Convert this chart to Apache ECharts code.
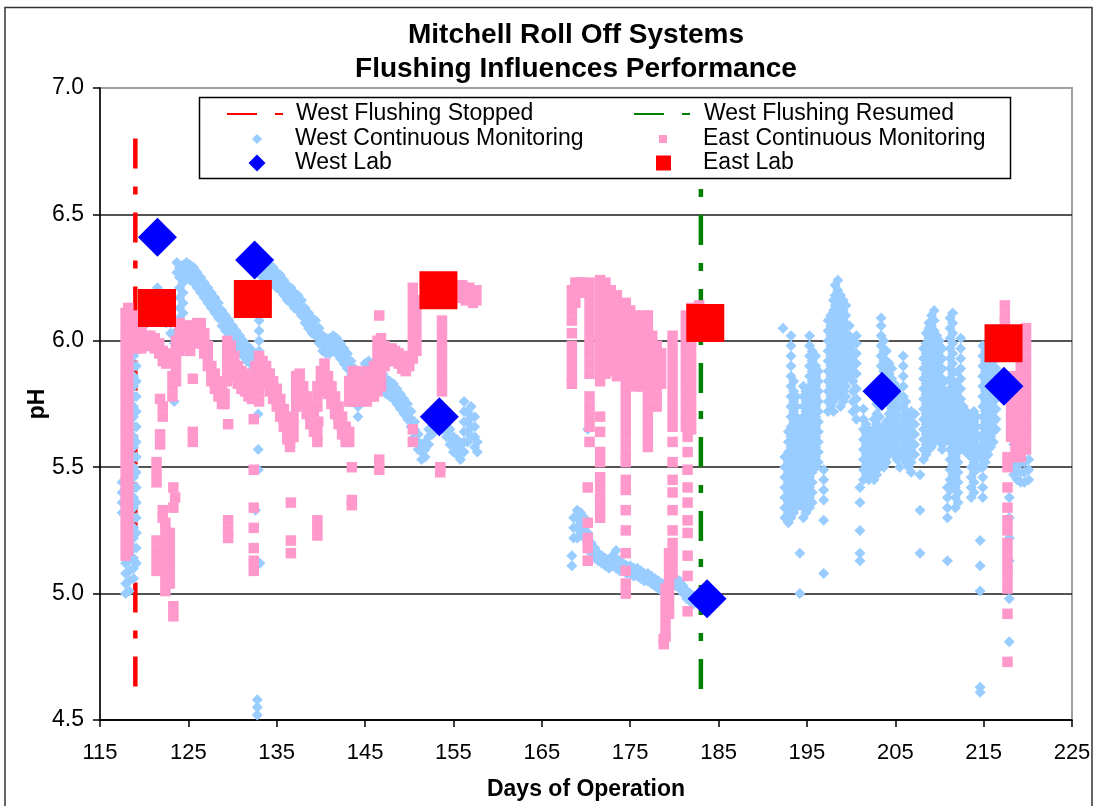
<!DOCTYPE html>
<html><head><meta charset="utf-8">
<script src="https://cdn.jsdelivr.net/npm/echarts@6/dist/echarts.min.js"></script>
<style>html,body{margin:0;padding:0;background:#fff}#c{width:1095px;height:806px}</style>
</head><body><div id="c"></div>
<script>
// ---------- DATA ----------
const xTicks = [115,125,135,145,155,165,175,185,195,205,215,225];
const yTicks = [4.5,5.0,5.5,6.0,6.5,7.0];

const stopDay = 119.0, stopRange = [6.8, 4.6];
const resumeDay = 183.0, resumeRange = [6.6, 4.6];

const westLabDays = [121.5, 132.5, 153.4, 183.7, 203.5, 217.3];
const westLabPH   = [6.41, 6.32, 5.70, 4.98, 5.80, 5.82];
const eastLabDays = [121.45, 132.3, 153.3, 183.5, 217.25];
const eastLabPH   = [6.13, 6.165, 6.20, 6.07, 5.99];

// rows: [day, pH, pH, ...]
const westCMRows = [
 [117.5,5.32,5.36,5.4,5.44],
 [117.9,5.0,5.04,5.08,5.12],
 [118.3,5.01,5.05,5.09,5.13,5.17],
 [118.8,5.06,5.1,5.14,5.18,5.22,5.26,5.3,5.34,5.38,5.42,5.46,5.5,5.54,5.58,5.62,5.66,5.7,5.74,5.78,5.82,5.86,5.9,5.94,5.98],
 [119.1,5.12,5.18,5.24,5.3,5.36,5.42,5.48,5.54,5.6,5.66,5.72,5.78,5.84,5.9,5.96,6.0],
 [119.5,6.0,6.04,6.08],[120.0,6.06,6.1],[120.5,6.08,6.12],[121.0,6.1,6.14],[121.5,6.14,6.21],
 [122.0,6.1,6.14],[122.5,6.07,6.11],[123.0,6.03,6.07],[123.4,5.76,5.99,6.03],[123.7,6.27,6.31],
 [124.0,6.01,6.05,6.09,6.13,6.17,6.21,6.25,6.29],
 [124.4,6.03,6.07,6.11,6.15,6.19,6.23,6.27,6.3],
 [124.8,6.25,6.28,6.31],[125.2,6.24,6.27,6.3],[125.6,6.23,6.26,6.29],[126.0,6.21,6.24,6.27],
 [126.4,6.19,6.22,6.25],[126.8,6.17,6.2,6.23],[127.2,6.15,6.18,6.21],[127.6,6.13,6.16,6.19],
 [128.0,6.11,6.14,6.17],[128.4,6.09,6.12,6.15],[128.8,6.06,6.09,6.12],[129.2,6.04,6.07,6.1],
 [129.6,6.02,6.05,6.08],[130.0,6.0,6.03,6.06],[130.4,5.98,6.01,6.04],[130.8,5.96,5.99,6.02],
 [131.2,5.94,5.97,6.0],[131.6,5.92,5.95,5.98],[132.0,5.91,5.94,5.97],[132.4,5.89,5.92,5.95],
 [132.6,5.33],[132.8,4.52,4.55,4.58],[132.9,5.49,5.57,5.71],
 [133.0,5.96,6.0,6.04,6.08,6.12],[133.1,5.12],
 [133.4,6.25,6.28,6.31],[133.8,6.25,6.28,6.31],[134.2,6.24,6.27,6.3],[134.6,6.23,6.26,6.29],
 [135.0,6.21,6.24,6.27],[135.4,6.2,6.23,6.26],[135.8,6.18,6.21,6.24],[136.2,6.16,6.19,6.22],
 [136.6,6.15,6.18,6.21],[137.0,6.13,6.16,6.19],[137.4,6.12,6.15,6.18],[137.8,6.1,6.13,6.16],
 [138.2,6.07,6.1,6.13],[138.6,6.05,6.08,6.11],[139.0,6.03,6.06,6.09],[139.4,6.02,6.05,6.08],
 [139.8,5.99,6.02,6.05],[140.2,5.96,5.99,6.02],[140.6,5.95,5.98,6.01],[141.0,5.95,5.98,6.01],
 [141.4,5.96,5.99,6.02],[141.8,5.95,5.98,6.01],[142.2,5.93,5.96,5.99],[142.6,5.91,5.94,5.97],
 [143.0,5.89,5.92,5.95],[143.4,5.86,5.89,5.92],[143.8,5.83,5.86,5.89],
 [144.2,5.7,5.74,5.78,5.81,5.84,5.87],[144.6,5.81,5.84,5.87],
 [145.0,5.85,5.88,5.91],[145.4,5.86,5.89,5.92],[145.8,5.85,5.88,5.91],[146.2,5.83,5.86,5.89],
 [146.6,5.82,5.85,5.88],[147.0,5.81,5.84,5.87],[147.4,5.79,5.82,5.85],[147.8,5.78,5.81,5.84],
 [148.2,5.77,5.8,5.83],[148.6,5.75,5.78,5.81],[149.0,5.73,5.76,5.79],[149.4,5.71,5.74,5.77],
 [149.8,5.69,5.72,5.75],[150.2,5.66,5.69,5.72],[150.6,5.62,5.65,5.68],[151.0,5.57,5.6,5.63],
 [151.4,5.53,5.56,5.59],[151.8,5.54,5.57,5.6],[152.2,5.59,5.62,5.65],[152.6,5.63,5.66,5.69],
 [153.0,5.65,5.68,5.71],[153.4,5.66,5.69,5.72],[153.8,5.65,5.68,5.71],[154.2,5.62,5.65,5.68],
 [154.6,5.59,5.62,5.65],[155.0,5.56,5.59,5.62],[155.4,5.55,5.58,5.61],[155.8,5.53,5.56,5.59],
 [156.2,5.56,5.6,5.64,5.68,5.72,5.76],[156.6,5.6,5.64,5.68,5.72],
 [157.0,5.62,5.66,5.7,5.74],[157.4,5.58,5.62,5.66,5.7],[157.7,5.56,5.6],
 // second period
 [168.4,5.11,5.15],
 [168.6,5.22,5.26,5.3],[169.0,5.22,5.26,5.3,5.33],[169.4,5.24,5.28,5.32],[169.8,5.22,5.26,5.3],
 [170.2,5.2,5.24,5.42,5.65],[170.6,5.16,5.2],[171.0,5.14,5.18],[171.4,5.13,5.16],[171.8,5.12,5.15],
 [172.2,5.11,5.14],[172.6,5.1,5.13],[173.0,5.11,5.15],[173.4,5.1,5.14,5.17],[173.8,5.09,5.13],
 [174.2,5.09,5.12],[174.6,5.08,5.11],[175.0,5.08,5.11],[175.4,5.07,5.1],[175.8,5.07,5.1],
 [176.2,5.06,5.09],[176.6,5.05,5.08],[177.0,5.05,5.08],[177.4,5.04,5.07],[177.8,5.03,5.06],
 [178.2,5.02,5.05],[178.6,5.01,5.04],[179.0,5.01,5.04],[179.4,5.02,5.05],[179.8,5.03,5.06],
 [180.2,5.03,5.06],[180.6,5.02,5.05],[181.0,5.0,5.03],[181.4,4.98,5.01],[181.8,4.97,5.0],[182.2,4.96,4.99],
 // third period
 [192.3,6.05],
 [192.5,5.3,5.34,5.38,5.42,5.46,5.5,5.54],
 [192.9,5.28,5.32,5.36,5.4,5.44,5.48,5.52,5.56,5.6,5.64],
 [193.2,5.3,5.34,5.38,5.42,5.46,5.5,5.54,5.58,5.62,5.66,5.7,5.74,5.78,5.82,5.86,5.9,5.94,5.98,6.02],
 [193.5,5.32,5.36,5.4,5.44,5.48,5.52,5.56,5.6,5.64,5.68,5.72,5.76,5.8,5.84],
 [193.8,5.34,5.38,5.42,5.46,5.5,5.54,5.58,5.62,5.66,5.7,5.74,5.78],
 [194.2,5.0,5.16,5.36,5.4,5.44,5.48,5.52,5.56,5.6,5.64,5.68],
 [194.6,5.3,5.34,5.38,5.42,5.46,5.5,5.54,5.58,5.62,5.66,5.7,5.74,5.78,5.82],
 [194.9,5.32,5.36,5.4,5.44,5.48,5.52,5.56,5.6,5.64,5.68,5.72,5.76,5.8],
 [195.3,5.34,5.38,5.42,5.46,5.5,5.54,5.58,5.62,5.66,5.7,5.74,5.78,5.82,5.86,5.9,5.94,5.98,6.02],
 [195.6,5.36,5.4,5.44,5.48,5.52,5.56,5.6,5.64,5.68,5.72,5.76,5.8,5.84,5.88,5.92,5.96],
 [196.0,5.5,5.54,5.58,5.62,5.66,5.7,5.74,5.78,5.82,5.86,5.9,5.94],
 [196.3,5.52,5.56,5.6,5.64,5.68,5.72,5.76,5.8,5.84,5.88],
 [196.9,5.08,5.29,5.37,5.41,5.45,5.49],
 [197.4,5.72,5.76,5.8,5.84,5.88,5.92,5.96,6.0,6.04,6.08],
 [197.7,5.74,5.78,5.82,5.86,5.9,5.94,5.98,6.02,6.06,6.1],
 [198.0,5.72,5.76,5.8,5.84,5.88,5.92,5.96,6.0,6.04,6.08,6.12,6.16],
 [198.2,5.78,5.82,5.86,5.9,5.94,5.98,6.02,6.06,6.1,6.14,6.18,6.22],
 [198.5,5.8,5.84,5.88,5.92,5.96,6.0,6.04,6.08,6.12,6.16,6.2,6.24],
 [198.8,5.74,5.78,5.82,5.86,5.9,5.94,5.98,6.02,6.06,6.1,6.14,6.18],
 [199.1,5.76,5.8,5.84,5.88,5.92,5.96,6.0,6.04,6.08,6.12,6.16],
 [199.4,5.78,5.82,5.86,5.9,5.94,5.98,6.02,6.06,6.1,6.14],
 [199.8,5.86,5.9,5.94,5.98,6.02,6.06],
 [200.2,5.72,5.76,5.8,5.84,5.88,5.92,5.96,6.0],
 [200.6,5.69,5.73,5.77,5.81,5.87,5.91,5.95,5.99,6.02],
 [201.0,5.13,5.16,5.25,5.36,5.42],
 [201.4,5.45,5.49,5.53,5.57,5.61,5.65,5.69,5.73],
 [201.7,5.47,5.51,5.55,5.59,5.63,5.67],
 [202.0,5.45,5.49,5.53,5.57,5.61,5.65],
 [202.3,5.47,5.51,5.55,5.59,5.63],
 [202.6,5.45,5.49,5.53,5.57,5.61,5.65,5.69],
 [202.9,5.47,5.51,5.55,5.59,5.63,5.67,5.71,5.75],
 [203.2,5.5,5.54,5.58,5.62,5.66,5.7,5.74],
 [203.4,5.52,5.56,5.6,5.64,5.9,5.94,5.98,6.02,6.06,6.09],
 [203.7,5.5,5.54,5.58,5.62,5.66,5.88,5.92,5.96,6.0],
 [204.0,5.52,5.56,5.6,5.64,5.68,5.84,5.88,5.92,5.96],
 [204.3,5.55,5.59,5.63,5.67,5.71,5.75,5.79,5.83,5.87,5.91],
 [204.6,5.57,5.61,5.65,5.69,5.73,5.77,5.81,5.85,5.89],
 [204.9,5.55,5.59,5.63,5.67,5.71,5.75,5.79,5.83],
 [205.2,5.53,5.57,5.61,5.65,5.69,5.73,5.77,5.81],
 [205.5,5.5,5.54,5.58,5.62,5.66,5.7,5.74,5.78],
 [205.9,5.54,5.58,5.62,5.66,5.7,5.74,5.78,5.82,5.86,5.9,5.94],
 [206.2,5.52,5.56,5.6,5.64,5.68,5.72,5.76],
 [206.5,5.5,5.54,5.58,5.62,5.66,5.7],
 [206.8,5.48,5.52,5.56,5.6,5.64,5.68,5.72],
 [207.2,5.55,5.59,5.63,5.67,5.71],
 [207.8,5.16,5.33,5.47],
 [208.2,5.53,5.57,5.61,5.65,5.69,5.73,5.77,5.81,5.85,5.89,5.93,5.97],
 [208.5,5.55,5.59,5.63,5.67,5.71,5.75,5.79,5.83,5.87,5.91,5.95,5.99,6.03],
 [208.8,5.57,5.61,5.65,5.69,5.73,5.77,5.81,5.85,5.89,5.93,5.97,6.01,6.05,6.07],
 [209.1,5.58,5.62,5.66,5.7,5.74,5.78,5.82,5.86,5.9,5.94,5.98,6.02,6.06,6.1],
 [209.4,5.6,5.64,5.68,5.72,5.76,5.8,5.84,5.88,5.92,5.96,6.0,6.04,6.08,6.12],
 [209.7,5.62,5.66,5.7,5.74,5.78,5.82,5.86,5.9,5.94,5.98,6.02],
 [210.0,5.6,5.64,5.68,5.72,5.76,5.8,5.84,5.88,5.92,5.96,6.0],
 [210.3,5.57,5.61,5.65,5.69,5.73,5.77,5.81,5.85,5.89,5.93,5.97],
 [210.6,5.6,5.64,5.68,5.72,5.76,5.8,5.84],
 [210.9,5.13,5.3,5.34,5.38,5.42,5.62,5.66,5.7,5.74,5.78],
 [211.2,5.41,5.45,5.49,5.53,5.57,5.61,5.65,5.69,5.73,5.77,5.81,5.85,5.89,5.93,5.97,6.01,6.05,6.09],
 [211.5,5.43,5.47,5.51,5.55,5.59,5.63,5.67,5.71,5.75,5.79,5.83,5.87,5.91,5.95,5.99,6.03,6.07,6.11],
 [211.8,5.34,5.38,5.42,5.46,5.5,5.54,5.58,5.62,5.66,5.7,5.74,5.78,5.82],
 [212.1,5.36,5.4,5.44,5.48,5.52,5.56,5.6,5.64,5.68,5.72,5.76,5.8,5.84,5.88],
 [212.4,5.61,5.65,5.69,5.73,5.77,5.81,5.85,5.89,5.93,5.97,6.01],
 [212.7,5.58,5.62,5.66,5.7,5.74],
 [213.0,5.56,5.6,5.64,5.68,5.72],
 [213.3,5.55,5.59,5.63,5.67,5.71],
 [213.6,5.38,5.42,5.46,5.5,5.54,5.58,5.62,5.66,5.7],
 [213.9,5.4,5.44,5.48,5.52,5.56,5.6,5.64,5.68,5.72],
 [214.2,5.5,5.54,5.58,5.62,5.66,5.7],
 [214.6,4.61,4.63,5.01,5.11,5.21,5.5,5.54,5.58,5.62],
 [214.9,5.38,5.42,5.46,5.5,5.54,5.58,5.62,5.66,5.7,5.74,5.78,5.82,5.86,5.9,5.94,5.98],
 [215.2,5.52,5.56,5.6,5.64,5.68,5.72,5.76,5.8,5.84,5.88,5.92,5.96],
 [215.5,5.55,5.59,5.63,5.67,5.71,5.75,5.79,5.83,5.87,5.91,5.95],
 [215.8,5.58,5.62,5.66,5.7,5.74,5.78,5.82,5.86,5.9,5.94],
 [216.1,5.6,5.64,5.68,5.72,5.76,5.8,5.84,5.88,5.92],
 [216.4,5.65,5.69,5.73,5.77,5.81,5.85,5.89],
 [217.9,4.81,4.98,5.13,5.22,5.3,5.38],
 [218.4,5.47,5.51,5.55,5.59,5.63,5.67,5.71,5.75],
 [218.8,5.45,5.49,5.53,5.57],
 [219.2,5.44,5.48,5.52,5.56],
 [219.6,5.44,5.48,5.52],
 [220.1,5.45,5.49,5.53]
];

const eastCMRows = [
 [117.9,5.15,5.19,5.23,5.27,5.31,5.35,5.39,5.43,5.47,5.51,5.55,5.59,5.63,5.67,5.71,5.75,5.79,5.83,5.87,5.91,5.95,5.99,6.03,6.07,6.11],
 [118.2,5.17,5.21,5.25,5.29,5.33,5.37,5.41,5.45,5.49,5.53,5.57,5.61,5.65,5.69,5.73,5.77,5.81,5.85,5.89,5.93,5.97,6.01,6.05,6.09,6.13],
 [118.7,5.98,6.02,6.06,6.1],[119.2,5.97,6.01,6.05],[119.7,5.97,6.01,6.05],[120.2,5.98,6.02],
 [120.7,5.98,6.02],[121.2,5.97,6.01],[121.7,5.95,5.99],[122.1,5.92,5.96],[122.5,5.91,5.95],
 [121.4,5.09,5.13,5.17,5.21,5.44,5.48,5.52],
 [121.8,5.59,5.63,5.77],
 [122.1,5.3,5.33,5.7,5.74],
 [122.4,5.01,5.05,5.09,5.13,5.17,5.21,5.25,5.28],
 [122.9,5.04,5.08,5.12,5.16,5.2,5.24],
 [123.3,4.91,4.95,5.34,5.42],[123.5,5.38],
 [123.2,5.78,5.82,5.86],[123.6,5.84,5.88,5.92,5.96,6.0],[124.0,5.96,6.0,6.04,6.07],
 [124.4,5.99,6.02,6.06],[124.8,5.98,6.02,6.06],[125.2,5.96,6.0,6.04],[125.6,5.99,6.02,6.06],
 [126.0,5.99,6.03,6.07],[126.4,6.0,6.04,6.07],[126.8,5.95,5.99,6.03],[127.2,5.9,5.94,5.98],
 [125.5,5.6,5.64,5.85],
 [127.6,5.84,5.87,5.9],[128.0,5.81,5.84,5.87],[128.4,5.78,5.81,5.84],[128.8,5.75,5.78,5.81],[129.1,5.75,5.79],
 [129.4,5.84,5.88,5.92,5.96,6.0],[129.8,5.86,5.9,5.94,5.98],[130.2,5.86,5.9,5.94],
 [130.6,5.83,5.86,5.9],[131.0,5.81,5.84,5.88],[131.4,5.8,5.83,5.87],[131.8,5.78,5.81,5.85],[132.2,5.77,5.8,5.84],
 [132.6,5.82,5.86,5.9],[133.0,5.76,5.8,5.86,5.9,5.94],[133.4,5.84,5.88,5.92],[133.8,5.83,5.86,5.9],
 [134.2,5.8,5.83,5.87],[134.6,5.77,5.8,5.84],[135.0,5.74,5.77,5.81],[135.4,5.7,5.73,5.77],[135.8,5.66,5.69,5.73],
 [136.2,5.61,5.64,5.68],[136.5,5.58,5.6,5.64],
 [129.5,5.22,5.25,5.29,5.67],
 [132.4,5.09,5.13,5.18,5.26,5.34,5.49,5.69],
 [136.6,5.16,5.21,5.36],
 [136.9,5.62,5.66,5.7],[137.2,5.74,5.78,5.82,5.86],[137.6,5.8,5.84,5.87],[138.0,5.75,5.78,5.82],
 [138.4,5.71,5.74,5.78],[138.8,5.67,5.7,5.74],[139.2,5.64,5.68,5.72],[139.6,5.62,5.66,5.74,5.78,5.82],
 [140.0,5.8,5.84,5.88],[140.4,5.84,5.88,5.91],[140.8,5.79,5.82,5.86],[141.2,5.75,5.78,5.82],
 [141.6,5.71,5.74,5.78],[142.0,5.67,5.7,5.74],[142.4,5.63,5.66,5.7],[142.8,5.6,5.63,5.66],
 [143.2,5.6,5.64,5.76,5.8,5.84],[143.6,5.76,5.8,5.84,5.88],[144.0,5.76,5.8,5.84,5.88],
 [144.4,5.76,5.8,5.84],[144.8,5.77,5.81,5.85],[145.2,5.76,5.8,5.84,5.88],[145.6,5.78,5.82,5.86],
 [146.0,5.78,5.82,5.86,5.9],[146.4,5.8,5.84,5.92,5.96,6.0],[146.8,5.82,5.86,5.9,5.94,5.98,6.01],
 [147.2,5.9,5.94,5.98],[147.6,5.92,5.96],[148.0,5.93,5.97],[148.4,5.92,5.96],[148.8,5.91,5.95],
 [149.2,5.89,5.93],[149.6,5.88,5.92],[150.0,5.9,5.94],
 [150.4,5.93,5.97,6.01,6.05,6.09,6.13,6.17,6.21],[150.8,5.96,6.0,6.04,6.08,6.12,6.16],
 [139.6,5.23,5.26,5.29,5.6],[139.7,5.68],
 [143.5,5.35,5.37,5.5],
 [146.6,5.49,5.53,6.1],
 [150.4,5.6,5.65],
 [153.5,5.48,5.5],
 [153.7,5.8,5.84,5.88,5.92,5.96,6.0,6.04,6.08],
 [155.6,6.17,6.21],[156.0,6.18,6.22],[156.4,6.16,6.2],[156.8,6.17,6.21],[157.2,6.15,6.19],[157.6,6.16,6.2],
 // second period
 [168.4,5.83,5.86,5.9,5.94,5.98,6.03,6.08,6.12,6.16,6.2],
 [168.8,6.15,6.19,6.23],[169.2,6.19,6.23],[169.6,6.19,6.23],
 [170.2,5.13,5.18,5.22,5.28,5.42],
 [170.4,5.6,5.66,5.7,5.74,5.78,5.87,5.91,5.95,5.99,6.03,6.07,6.11,6.15,6.19,6.23],
 [171.6,5.3,5.34,5.38,5.42,5.46,5.52,5.56,5.64,5.7,5.84,5.88,5.92,5.96,6.0,6.04,6.08,6.12,6.16,6.2,6.24],
 [172.2,5.87,5.91,5.95,5.99,6.03,6.07,6.11,6.15,6.19,6.23],
 [172.8,5.88,5.92,5.96,6.0,6.04,6.08,6.12,6.16,6.2],
 [173.5,5.86,5.9,5.94,5.98,6.02,6.06,6.1,6.14,6.18],
 [174.5,5.0,5.04,5.09,5.16,5.25,5.33,5.41,5.45,5.52,5.55,5.59,5.63,5.67,5.71,5.75,5.79,5.83,5.87,5.91,5.95,5.99,6.03,6.07,6.11,6.15],
 [175.0,5.84,5.88,5.92,5.96,6.0,6.04,6.08,6.12],
 [175.5,5.82,5.86,5.9,5.94,5.98,6.02,6.06,6.1],
 [176.0,5.82,5.86,5.9,5.94,5.98,6.02,6.06],
 [176.5,5.82,5.86,5.9,5.94,5.98,6.02,6.06,6.1],
 [177.0,5.58,5.62,5.66,5.7,5.74,5.78,5.82,5.86,5.9,5.94,5.98,6.02,6.06,6.1],
 [177.5,5.82,5.86,5.9,5.94,5.98,6.02],
 [178.0,5.74,5.78,5.82,5.86,5.9,5.94,5.98],
 [178.5,5.83,5.87,5.91,5.95],
 [178.8,4.8,4.82],
 [179.0,4.83,4.86,4.9,4.94,4.98,5.02],
 [179.4,4.92,4.96,5.0,5.04,5.08,5.12,5.16],
 [179.8,5.08,5.12,5.16,5.2,5.25,5.33,5.4,5.45,5.52,5.6,5.66,5.7,5.74,5.78,5.82,5.86,5.9,5.94,5.98,6.02],
 [181.3,5.66,5.7,5.74,5.78,5.82,5.86,5.9,5.94,5.98,6.02,6.06,6.1],
 [181.5,4.93,5.07,5.15,5.24,5.29,5.36,5.42,5.49,5.56,5.62],
 [181.9,5.65,5.69,5.73,5.77,5.81,5.85,5.89,5.93,5.97,6.01,6.05,6.09,6.13],
 [182.8,6.14],
 // third period
 [217.4,6.07,6.1,6.14],
 [217.7,4.73,4.92,5.02,5.06,5.09,5.12,5.16,5.2,5.25,5.29,5.34,5.42,5.5,5.54],
 [218.1,5.62,5.66,5.7,5.74,5.78,5.82,5.86],
 [218.6,5.54,5.58,5.62,5.66,5.7,5.74,5.78],
 [219.2,5.54,5.58,5.62,5.66,5.7,5.74,5.78,5.82,5.86,5.9],
 [219.8,5.57,5.61,5.65,5.69,5.73,5.77,5.81,5.85,5.89,5.93,5.97,6.01,6.05]
];

// ---------- build ----------
const expand = rows => rows.flatMap(r => r.slice(1).map(v => [r[0], v]));
const westCM = expand(westCMRows);
const eastCM = expand(eastCMRows);
const westLab = westLabDays.map((d, i) => [d, westLabPH[i]]);
const eastLab = eastLabDays.map((d, i) => [d, eastLabPH[i]]);
const stopLine = stopRange.map(v => [stopDay, v]);
const resumeLine = resumeRange.map(v => [resumeDay, v]);

const FONT = 'Liberation Sans, Arial, sans-serif';
const dash = [30, 18, 8, 18];
const chart = echarts.init(document.getElementById('c'), null, {renderer: 'canvas'});

function leg(name, left, top, w, h, pad, extra) {
  return Object.assign({
    data: [name], left: left, top: top, padding: 0, itemWidth: w, itemHeight: h,
    selectedMode: false, orient: 'horizontal',
    textStyle: {fontSize: 23, fontFamily: FONT, color: '#000', lineHeight: 26, padding: [0, 0, 0, pad]}
  }, extra || {});
}
const lineLegendExtra = {itemStyle: {color: 'rgba(0,0,0,0)', borderWidth: 0}};

chart.setOption({
  animation: false,
  backgroundColor: '#fff',
  title: {
    text: 'Mitchell Roll Off Systems\nFlushing Influences Performance',
    left: 576, top: 18, padding: 0, textAlign: 'center', textVerticalAlign: 'top',
    textStyle: {fontSize: 28, fontWeight: 'bold', fontFamily: FONT, color: '#000', lineHeight: 34}
  },
  graphic: [
    {type: 'rect', z: -10, silent: true, shape: {x: 5, y: 7.5, width: 1087, height: 830},
     style: {fill: 'none', stroke: '#333', lineWidth: 1.5}},
    {type: 'rect', z: 0, silent: true, shape: {x: 199.5, y: 97.5, width: 811, height: 81},
     style: {fill: '#fff', stroke: '#000', lineWidth: 1.5}}
  ],
  legend: [
    leg('West Flushing Stopped', 226, 101, 57, 6, 7, lineLegendExtra),
    leg('West Flushing Resumed', 633, 101, 57, 6, 8, Object.assign({lineStyle: {dashOffset: 0}}, lineLegendExtra)),
    leg('West Continuous Monitoring', 252, 126, 10, 10, 28),
    leg('East Continuous Monitoring', 659, 126, 8, 8, 31),
    leg('West Lab', 248.5, 150, 17, 17, 24.5),
    leg('East Lab', 656, 150, 15, 15, 27)
  ],
  grid: {left: 100, top: 88, right: 23, bottom: 86, show: true, borderColor: '#A0A0A0', borderWidth: 2,
         containLabel: false, outerBoundsMode: 'none'},
  xAxis: {
    type: 'value', min: xTicks[0], max: xTicks[xTicks.length - 1], interval: 10,
    axisLine: {show: true, onZero: false, lineStyle: {color: '#000', width: 1.5}},
    axisTick: {show: true, length: 7, lineStyle: {color: '#000', width: 1.5}},
    axisLabel: {fontSize: 22, fontFamily: FONT, color: '#000', margin: 22},
    splitLine: {show: false},
    name: 'Days of Operation', nameLocation: 'middle', nameGap: 58, nameMoveOverlap: false,
    nameTextStyle: {fontSize: 23, fontWeight: 'bold', fontFamily: FONT, color: '#000'}
  },
  yAxis: {
    type: 'value', min: yTicks[0], max: yTicks[yTicks.length - 1], interval: 0.5,
    axisLine: {show: true, onZero: false, lineStyle: {color: '#000', width: 1.5}},
    axisTick: {show: true, length: 7, lineStyle: {color: '#000', width: 1.5}},
    axisLabel: {fontSize: 23, fontFamily: FONT, color: '#000', margin: 16, formatter: v => v.toFixed(1)},
    splitLine: {show: true, lineStyle: {color: ['#000', '#1a1a1a', '#1a1a1a', '#1a1a1a', '#1a1a1a', '#A0A0A0'], width: 1.5}},
    name: 'pH', nameLocation: 'middle', nameGap: 51, nameMoveOverlap: false,
    nameTextStyle: {fontSize: 23, fontWeight: 'bold', fontFamily: FONT, color: '#000'}
  },
  series: [
    {name: 'West Flushing Stopped', type: 'line', data: stopLine, symbol: 'none', silent: true,
     lineStyle: {color: '#FF0000', width: 4.5, type: dash, cap: 'butt'}, itemStyle: {color: '#FF0000'}, z: 1},
    {name: 'West Flushing Resumed', type: 'line', data: resumeLine, symbol: 'none', silent: true,
     lineStyle: {color: '#008000', width: 4.5, type: dash, dashOffset: 48, cap: 'butt'}, itemStyle: {color: '#008000'}, z: 1},
    {name: 'West Continuous Monitoring', type: 'scatter', data: westCM, symbol: 'diamond', symbolSize: 11,
     large: false, itemStyle: {color: '#99CCFF', opacity: 1}, silent: true, z: 2},
    {name: 'East Continuous Monitoring', type: 'scatter', data: eastCM, symbol: 'rect', symbolSize: 10.5,
     large: false, itemStyle: {color: '#FF99CC', opacity: 1}, silent: true, z: 3},
    {name: 'West Lab', type: 'scatter', data: westLab, symbol: 'diamond', symbolSize: 39,
     itemStyle: {color: '#0000FF', opacity: 1}, silent: true, z: 4},
    {name: 'East Lab', type: 'scatter', data: eastLab, symbol: 'rect', symbolSize: 38,
     itemStyle: {color: '#FF0000', opacity: 1}, silent: true, z: 5}
  ]
});
</script></body></html>
